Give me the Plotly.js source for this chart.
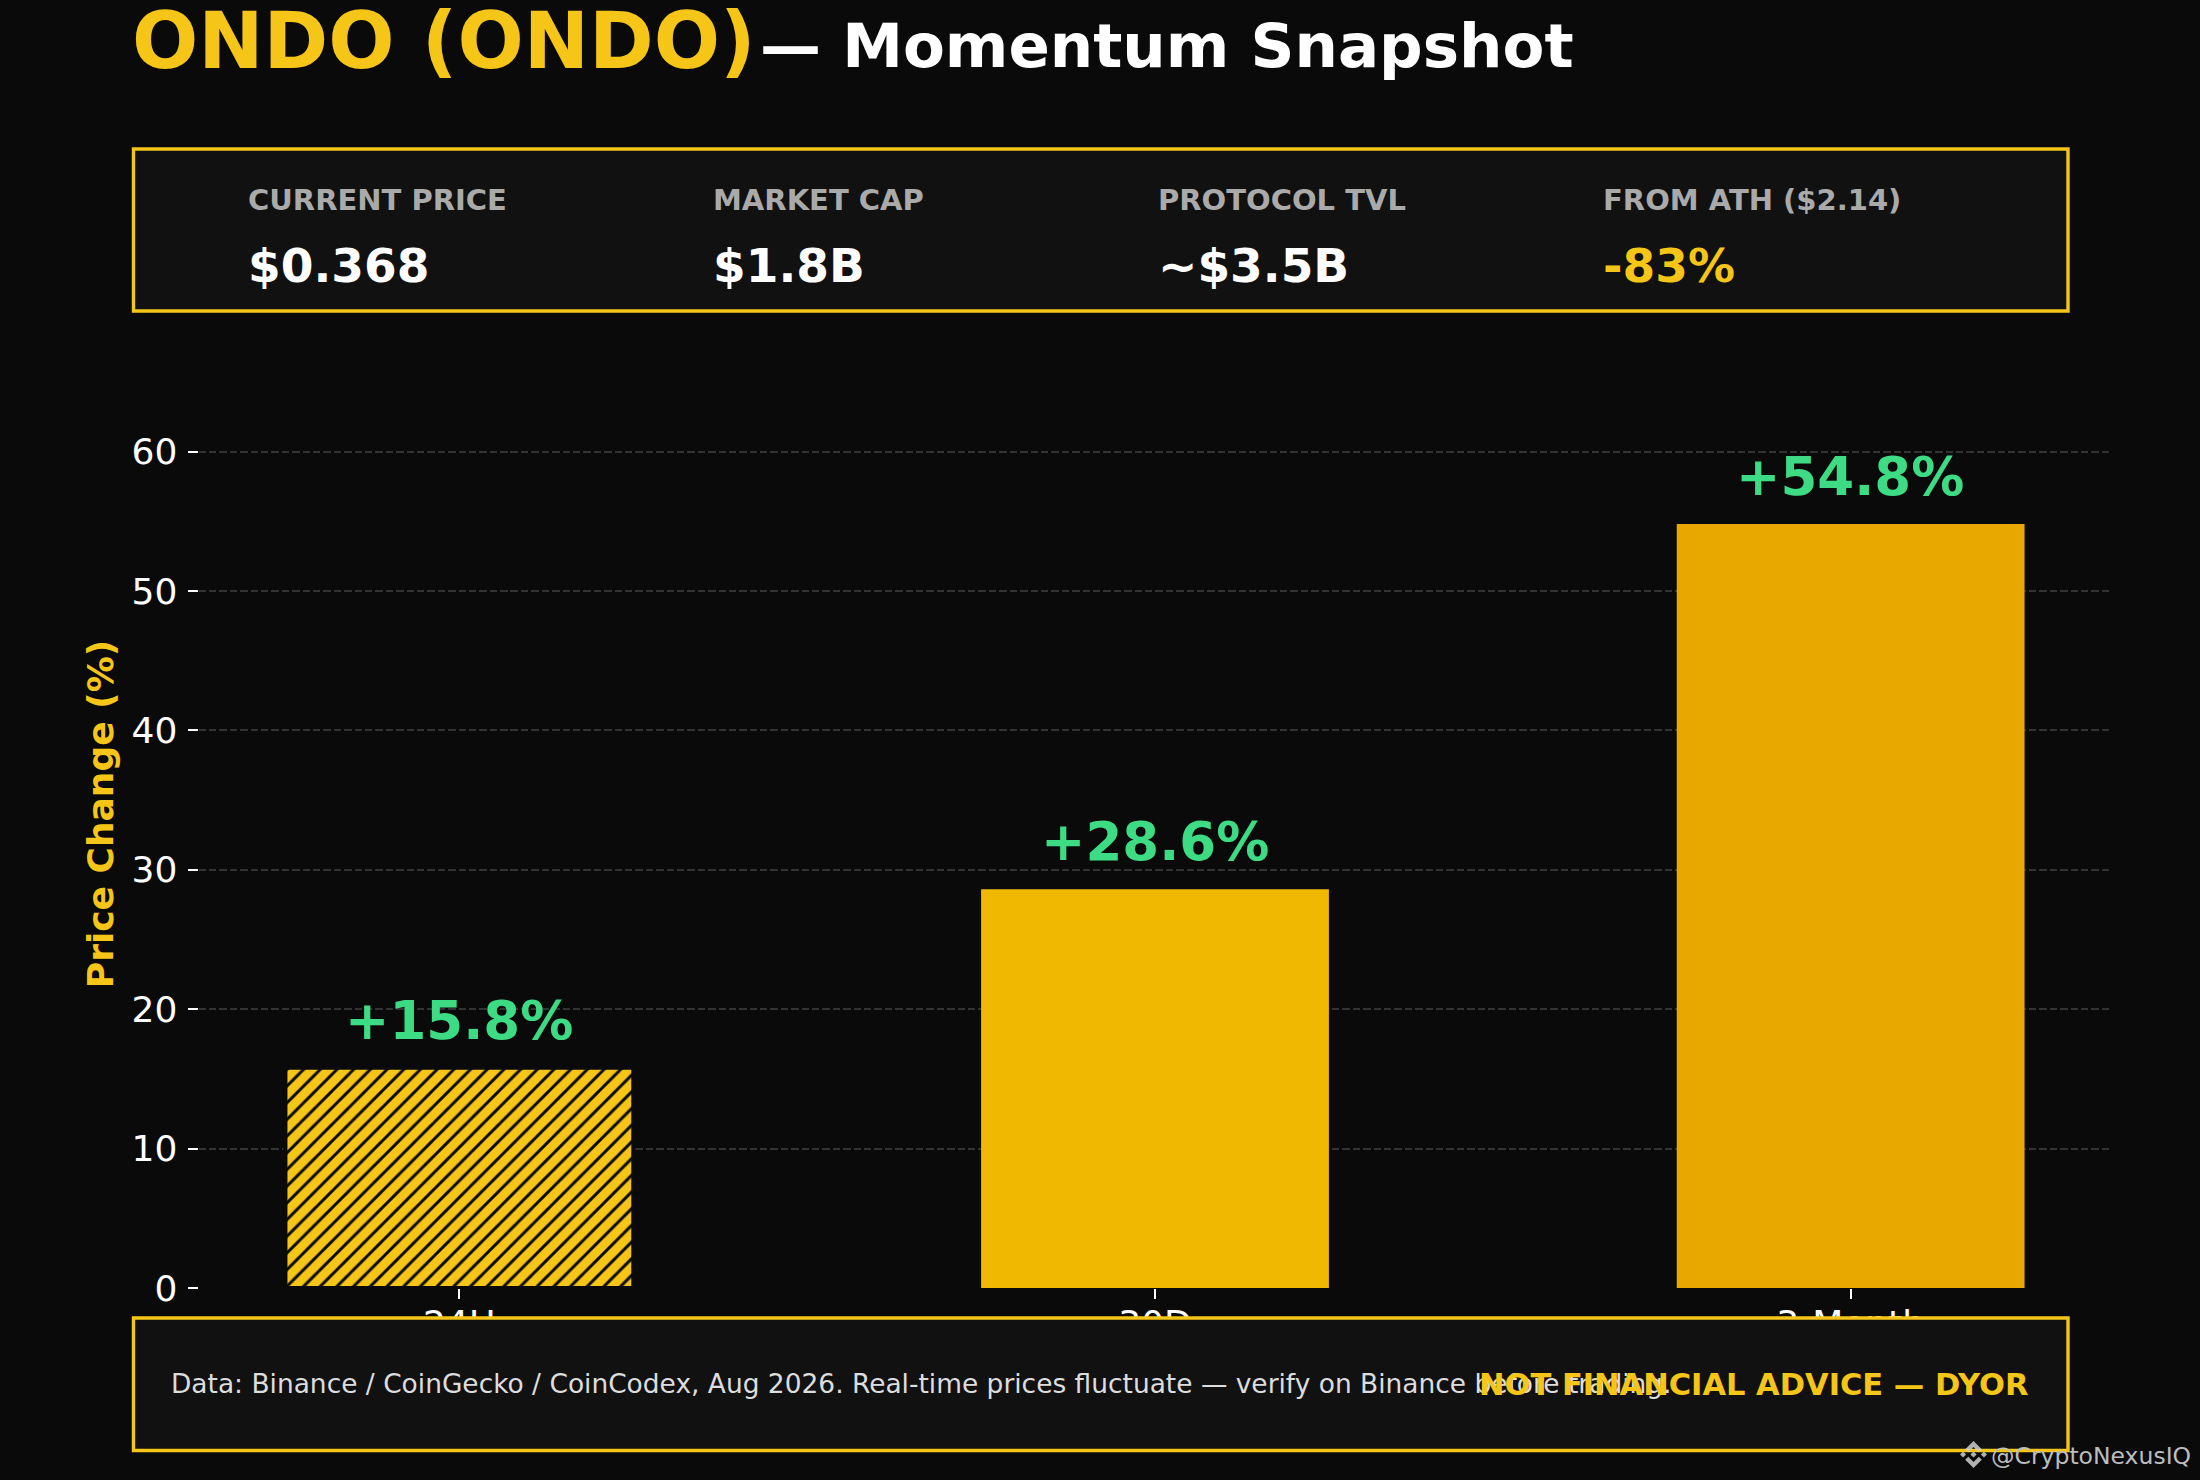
<!DOCTYPE html>
<html><head><meta charset="utf-8">
<script src="https://cdn.plot.ly/plotly-3.0.1.min.js"></script>
<style>html,body{margin:0;padding:0;background:#0a0a0a}</style></head>
<body><div id="chart" style="width:2200px;height:1480px"></div>
<script>
const categories = ["24H", "30D", "3-Month"];
const changes = [15.8, 28.6, 54.8];
const changeLabels = ["+15.8%", "+28.6%", "+54.8%"];
const barColors = ["#f5c518", "#f0b800", "#e8a800"];
const barPatterns = ["/", "", ""];
const barEdgeWidths = [4, 0, 0];
const yTicks = [0, 10, 20, 30, 40, 50, 60];
const statLabels = ["CURRENT PRICE", "MARKET CAP", "PROTOCOL TVL", "FROM ATH ($2.14)"];
const statValues = ["$0.368", "$1.8B", "~$3.5B", "-83%"];
const statValueColors = ["#ffffff", "#ffffff", "#ffffff", "#f5c518"];

const W = 2200, H = 1480;
const FONT = "DejaVu Sans";
const GOLD = "#f5c518";
const px = x => x / W, py = y => 1 - y / H;

function txt(text, x, base, size, color, bold, anchor) {
  return {text: bold ? "<b>" + text + "</b>" : text, xref: "paper", yref: "paper",
    x: px(x), y: py(base + 0.24 * size), xanchor: anchor || "left", yanchor: "bottom",
    showarrow: false, borderpad: 0, font: {family: FONT, size: size, color: color}};
}
function box(x0, y0, x1, y1) {
  return {type: "rect", xref: "paper", yref: "paper", x0: px(x0), x1: px(x1), y0: py(y1), y1: py(y0),
    fillcolor: "#111111", line: {color: GOLD, width: 3.4}, layer: "above"};
}
function poly(points, ox, oy, s) {
  const d = points.map((p, i) => (i ? "L" : "M") + px(ox + p[0] * s) + "," + py(oy + p[1] * s)).join(" ") + " Z";
  return {type: "path", xref: "paper", yref: "paper", path: d, fillcolor: "#cfcfcf", line: {width: 0}, layer: "above", opacity: 0.85};
}
const logoParts = [
  [[38.73,53.2],[63.32,28.62],[87.92,53.22],[102.22,38.91],[63.32,0],[24.43,38.9]],
  [[0,63.31],[14.3,49],[28.61,63.31],[14.3,77.61]],
  [[38.73,73.41],[63.32,98],[87.92,73.4],[102.23,87.69],[63.33,126.6],[24.42,87.72]],
  [[98,63.31],[112.3,49],[126.61,63.3],[112.3,77.61]],
  [[77.83,63.3],[63.32,48.78],[48.81,63.28],[63.32,77.78]]
];

const statX = [247, 712, 1157, 1602];
const annotations = [
  txt("ONDO (ONDO)", 131, 68.5, 78, GOLD, true),
  txt("— Momentum Snapshot", 758.5, 67.5, 61, "#ffffff", true),
  txt("Data: Binance / CoinGecko / CoinCodex, Aug 2026. Real-time prices fluctuate — verify on Binance before trading.", 170, 1393.5, 26.45, "#dddddd", false),
  txt("NOT FINANCIAL ADVICE — DYOR", 2029, 1395.5, 30.5, GOLD, true, "right"),
  txt("@CryptoNexusIQ", 1990, 1465, 23.5, "#bdbdbd", false)
];
statLabels.forEach((t, i) => {
  annotations.push(txt(t, statX[i], 211.5, 29, "#aaaaaa", true));
  annotations.push(txt(statValues[i], statX[i], 282.5, 47, statValueColors[i], true));
});
categories.forEach((c, i) => {
  annotations.push({text: "<b>" + changeLabels[i] + "</b>", x: c, y: changes[i], xref: "x", yref: "y",
    xanchor: "center", yanchor: "bottom", xshift: -0.5, yshift: 16, showarrow: false, borderpad: 0,
    font: {family: FONT, size: 53, color: "#3ddc84"}});
});

const shapes = [box(133.5, 149, 2068, 311), box(133.5, 1318, 2068, 1450.5)]
  .concat(logoParts.map(p => poly(p, 1960, 1441, 27 / 126.6)));

const traces = categories.map((c, i) => ({
  type: "bar", x: [c], y: [changes[i]], width: 0.5, hoverinfo: "skip",
  marker: {color: barColors[i], line: {color: "#0a0a0a", width: barEdgeWidths[i]},
    pattern: {shape: barPatterns[i], size: 11.8, solidity: 0.25, fillmode: "replace",
      fgcolor: "#0a0a0a", bgcolor: barColors[i], fgopacity: 1}}
}));

const baseY = 1288, pxPerUnit = 13.94, yMax = 68;
const layout = {
  width: W, height: H, margin: {l: 0, r: 0, t: 0, b: 0, pad: 0}, barmode: "overlay",
  paper_bgcolor: "#0a0a0a", plot_bgcolor: "#0a0a0a", showlegend: false,
  font: {family: FONT, color: "#ffffff"},
  xaxis: {type: "category", categoryorder: "array", categoryarray: categories,
    domain: [198.5 / W, 2111.5 / W], range: [-0.375, 2.375], showgrid: false, zeroline: false,
    showline: false, ticks: "outside", ticklen: 10, tickwidth: 2, tickcolor: "#ffffff", ticklabelstandoff: -6,
    tickfont: {family: FONT, size: 36, color: "#ffffff"}, fixedrange: true},
  yaxis: {domain: [1 - baseY / H, 1 - (baseY - yMax * pxPerUnit) / H], range: [0, yMax], tickvals: yTicks, showgrid: true, gridcolor: "#333333", gridwidth: 2,
    griddash: "7.4px,3px", zeroline: false, showline: false, ticks: "outside", ticklen: 10, tickwidth: 2, tickcolor: "#ffffff", ticklabelstandoff: 3,
    tickfont: {family: FONT, size: 36, color: "#ffffff"}, fixedrange: true,
    title: {text: "<b>Price Change (%)</b>", standoff: 6, font: {family: FONT, size: 36, color: GOLD}}},
  annotations: annotations, shapes: shapes
};
Plotly.newPlot("chart", traces, layout, {displayModeBar: false, responsive: false});
</script></body></html>
